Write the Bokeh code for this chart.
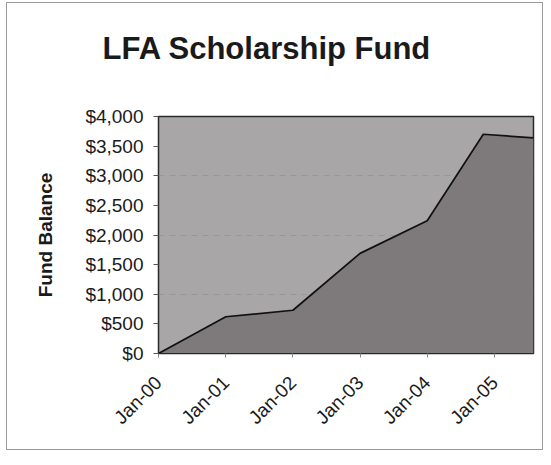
import pandas as pd
from bokeh.plotting import figure
from bokeh.models import FixedTicker, Range1d, Spacer, Title
from bokeh.layouts import row, column
from bokeh.embed import file_html
from bokeh.resources import INLINE

# ---- data ----
dates = ["2000-01-01", "2001-01-01", "2002-01-01", "2003-01-01",
         "2004-01-01", "2004-11-01", "2005-08-01"]
balance = [0, 620, 730, 1690, 2240, 3700, 3640]

tick_dates = ["2000-01-01", "2001-01-01", "2002-01-01",
              "2003-01-01", "2004-01-01", "2005-01-01"]
tick_labels = ["Jan-00", "Jan-01", "Jan-02", "Jan-03", "Jan-04", "Jan-05"]

y_ticks = [0, 500, 1000, 1500, 2000, 2500, 3000, 3500, 4000]
y_labels = ["$0", "$500", "$1,000", "$1,500", "$2,000",
            "$2,500", "$3,000", "$3,500", "$4,000"]
grid_ticks = [1000, 2000, 3000]

title_text = "LFA Scholarship Fund"
y_title = "Fund Balance"

# ---- build ----
x = pd.to_datetime(dates)
xt = [pd.Timestamp(d).value / 1e6 for d in tick_dates]
x_ms = [t.value / 1e6 for t in x]

FONT = "Liberation Sans"

p = figure(width=537, height=448, x_axis_type="datetime",
           output_backend="svg", toolbar_location=None,
           x_range=Range1d(x_ms[0], x_ms[-1]), y_range=Range1d(0, 4000),
           min_border_left=151, min_border_right=11,
           min_border_top=113, min_border_bottom=98)
p.styles = {"border": "1px solid #9a9a9a"}

# spacer between frame and title
p.add_layout(Title(text=" ", text_font_size="1px", standoff=43), "above")

p.title.text = title_text
p.title.text_font = FONT
p.title.text_font_size = "31px"
p.title.text_font_style = "bold"
p.title.text_color = "#1a1a1a"
p.title.align = "left"
p.title.offset = -56
p.title.standoff = 10

p.background_fill_color = "#a8a6a7"
p.border_fill_color = "white"
p.outline_line_color = "#2a2a2a"
p.outline_line_width = 1.5

p.varea(x=x, y1=0, y2=balance, fill_color="#7e7a7c")
p.line(x=x, y=balance, line_color="#111111", line_width=1.7)

p.xgrid.visible = False
p.ygrid.ticker = FixedTicker(ticks=grid_ticks)
p.ygrid.grid_line_color = "#8e8c8d"
p.ygrid.grid_line_dash = "6 5"
p.ygrid.grid_line_alpha = 0.6

ya = p.yaxis[0]
ya.ticker = FixedTicker(ticks=y_ticks)
ya.major_label_overrides = {t: l for t, l in zip(y_ticks, y_labels)}
ya.major_label_text_font = FONT
ya.major_label_text_font_size = "19px"
ya.major_label_text_color = "#1a1a1a"
ya.major_label_standoff = 10
ya.major_tick_out = 5
ya.major_tick_in = 0
ya.minor_tick_line_color = None
ya.axis_line_color = "#2a2a2a"
ya.major_tick_line_color = "#555555"
ya.axis_label = y_title
ya.axis_label_text_font = FONT
ya.axis_label_text_font_size = "19px"
ya.axis_label_text_font_style = "bold"
ya.axis_label_text_color = "#1a1a1a"
ya.axis_label_standoff = 26

xa = p.xaxis[0]
xa.ticker = FixedTicker(ticks=xt)
xa.major_label_overrides = {t: l for t, l in zip(xt, tick_labels)}
xa.major_label_orientation = 0.785398
xa.major_label_text_font = FONT
xa.major_label_text_font_size = "19px"
xa.major_label_text_color = "#1a1a1a"
xa.major_label_standoff = 22
xa.major_tick_out = 4
xa.major_tick_in = 0
xa.minor_tick_line_color = None
xa.axis_line_color = "#2a2a2a"
xa.major_tick_line_color = "#888888"

layout = column(Spacer(height=2), row(Spacer(width=6), p))
open("out.html", "w").write(file_html(layout, INLINE))
